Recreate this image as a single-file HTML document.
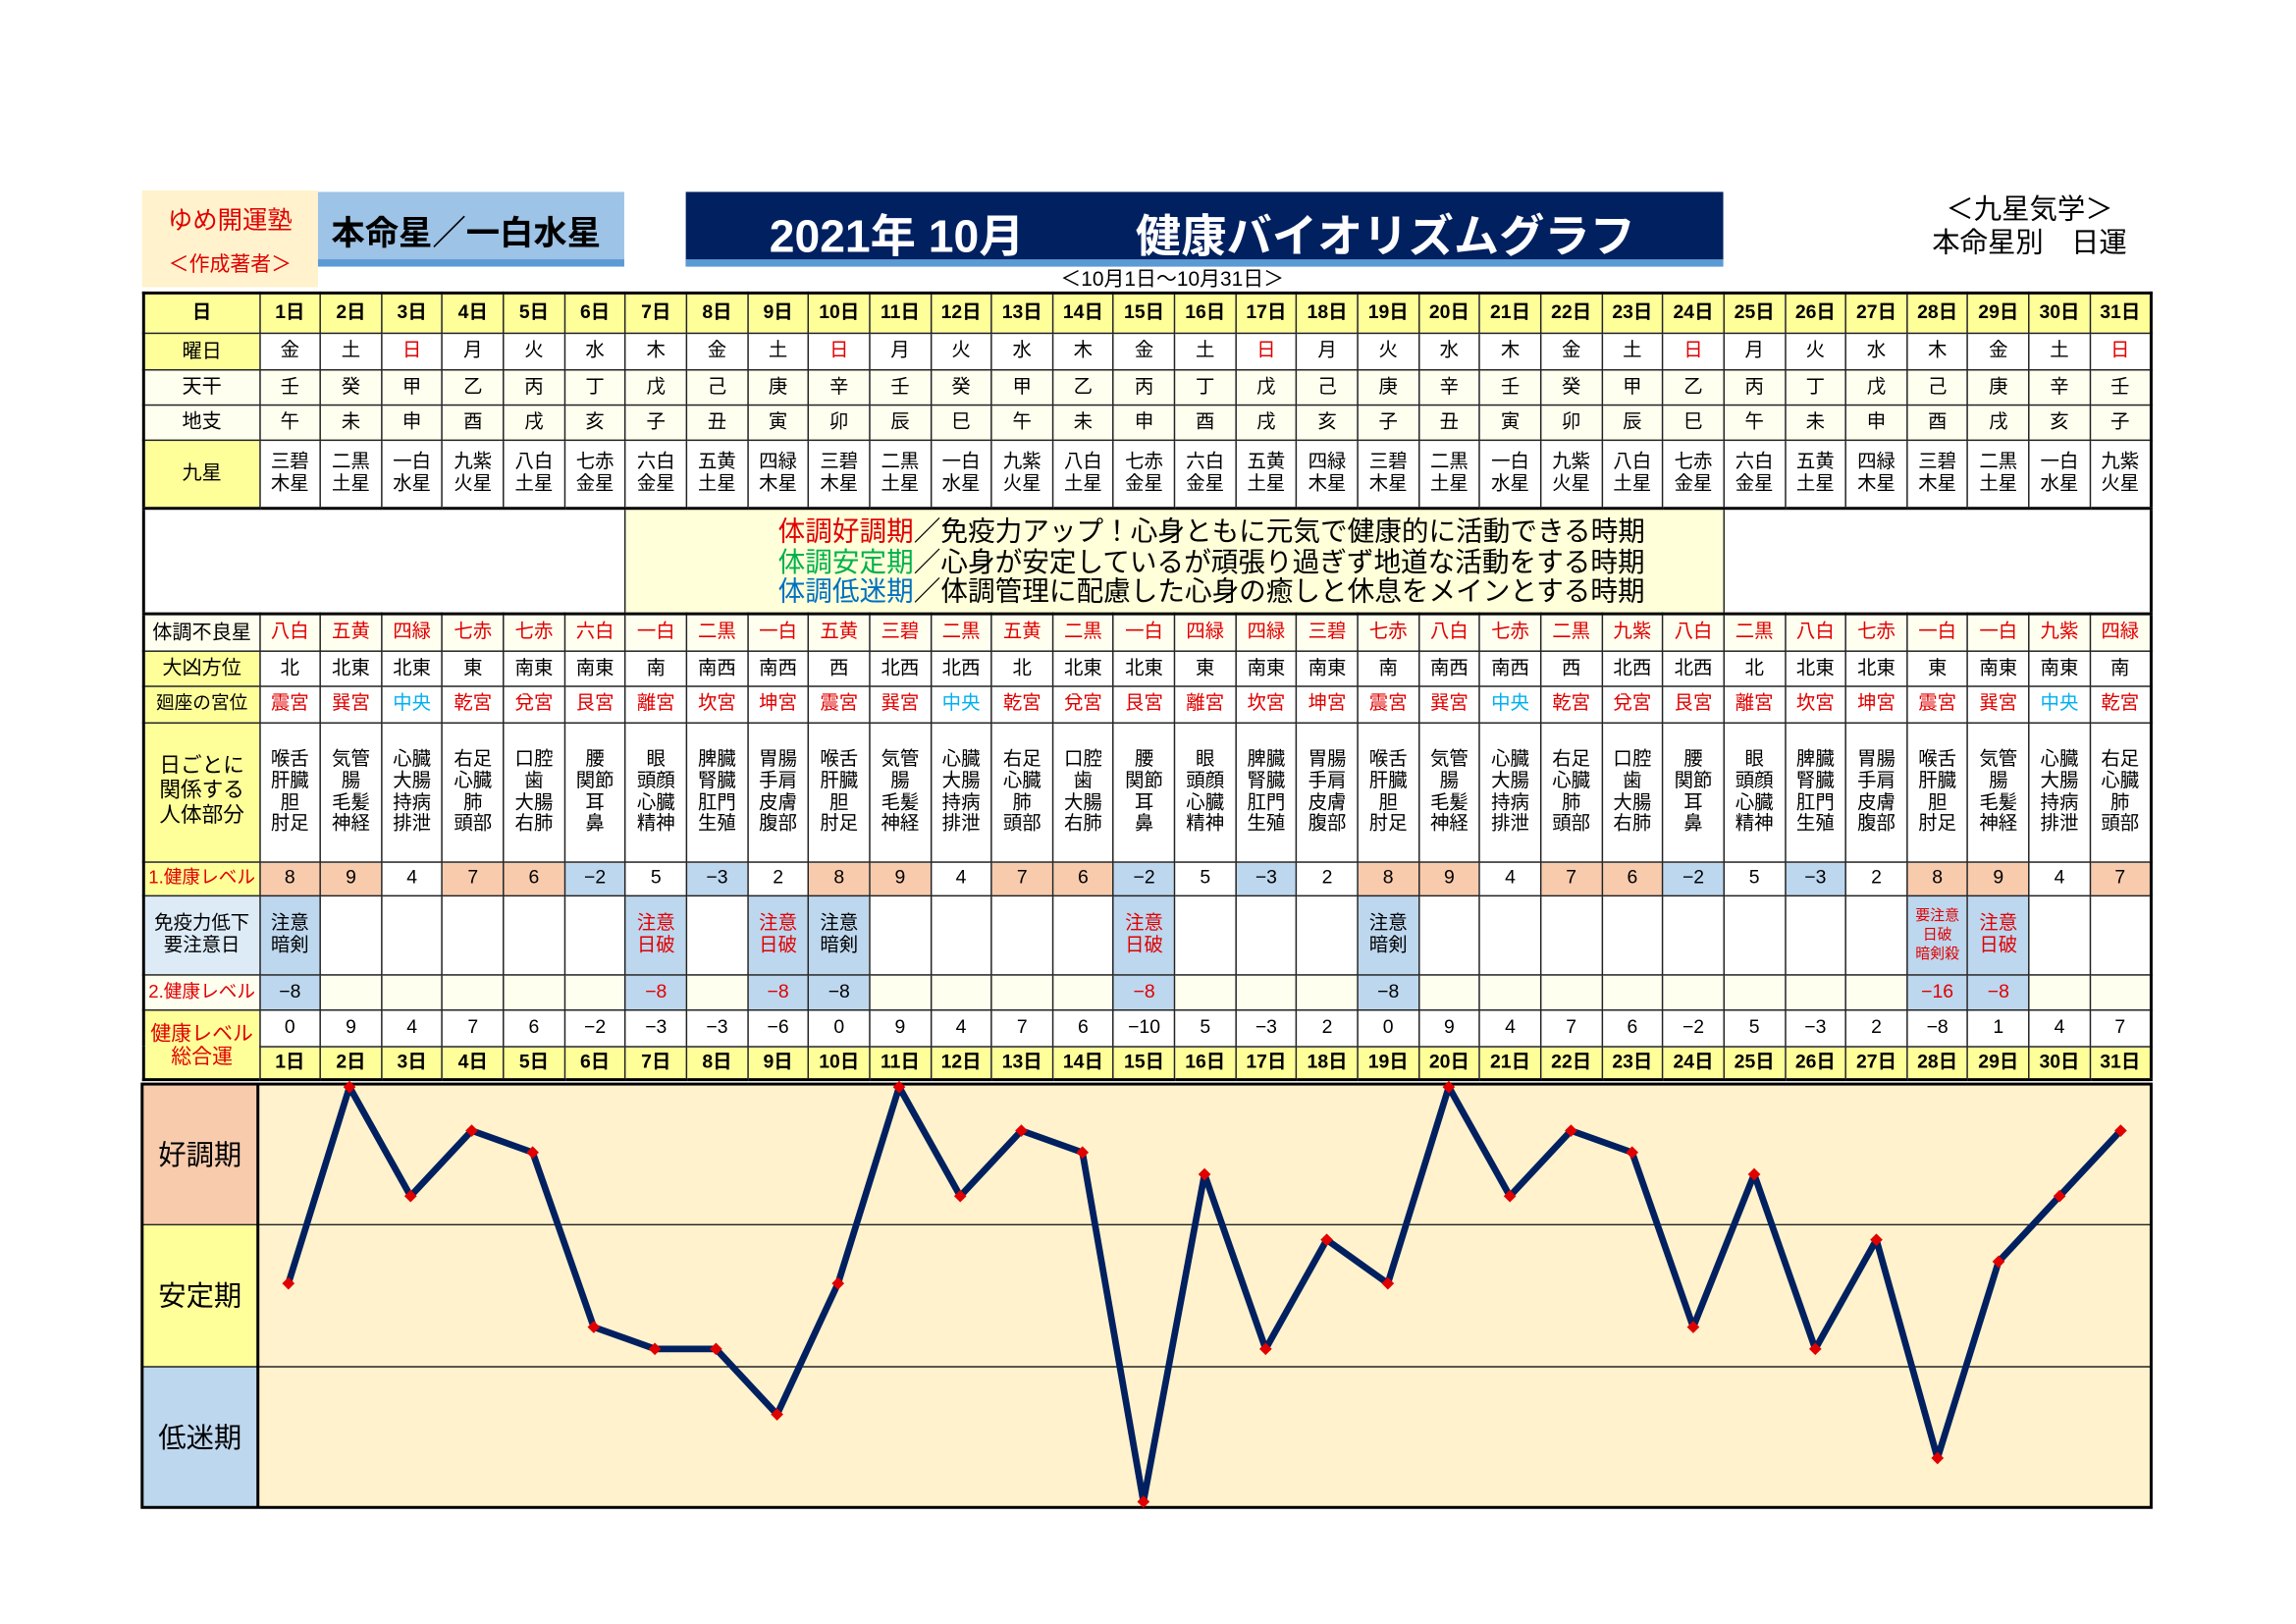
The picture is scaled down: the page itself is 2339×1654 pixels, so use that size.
<!DOCTYPE html>
<html><head><meta charset="utf-8">
<style>
html,body{margin:0;padding:0;background:#fff;}
body{width:2339px;height:1654px;overflow:hidden;position:relative;}
#w{position:absolute;left:0;top:0;width:1559px;height:1103px;transform:scale(1.4928,1.492);transform-origin:0 0;font-family:"Liberation Sans","Noto Sans CJK JP",sans-serif;color:#000;}
.a{position:absolute;}
table{position:absolute;left:97px;top:199px;border-collapse:collapse;table-layout:fixed;width:1371px;border:2px solid #000;}
td{border:1px solid #222;padding:0;text-align:center;vertical-align:middle;font-size:13px;line-height:1.15;overflow:hidden;white-space:nowrap;}
td.L{background:#ffff99;font-size:13.5px;}
tr.hd td{background:#ffff99;font-weight:bold;font-size:13px;}
tr.c td{background:#fffff0;}
.r{color:#e00000;}
.b{color:#00b0f0;}
.pk{background:#f8cbad !important;}
.bl{background:#bdd7ee !important;}
tr.tb td{border-bottom:2px solid #000;}
</style></head><body><div id="w">
<div class="a" style="left:97px;top:130px;width:120px;height:66px;background:#fff2cc;"></div>
<div class="a" style="left:97px;top:136px;width:120px;text-align:center;color:#e00000;font-size:17px;">ゆめ開運塾</div>
<div class="a" style="left:97px;top:170px;width:120px;text-align:center;color:#e00000;font-size:14px;">＜作成著者＞</div>
<div class="a" style="left:217px;top:131px;width:209px;height:46px;background:#9dc3e6;border-bottom:5px solid #5b9bd5;"></div>
<div class="a" style="left:226px;top:140px;font-size:23px;font-weight:bold;">本命星／一白水星</div>
<div class="a" style="left:468px;top:131px;width:708px;height:46px;background:#002060;border-bottom:5px solid #5b9bd5;"></div>
<div class="a" style="left:468px;top:136px;width:708px;color:#fff;font-size:31px;font-weight:bold;white-space:pre;"><span style="position:absolute;left:57px;">2021年 10月</span><span style="position:absolute;left:307px;">健康バイオリズムグラフ</span></div>
<div class="a" style="left:1300px;top:132px;width:170px;text-align:center;font-size:19px;line-height:23px;">＜九星気学＞<br>本命星別　日運</div>
<div class="a" style="left:600px;top:180px;width:400px;text-align:center;font-size:14px;">＜10月1日～10月31日＞</div>

<table>
<colgroup><col style="width:79px"><col span="31" style="width:41.645px"></colgroup>
<tr class="hd" style="height:27px"><td>日</td><td>1日</td><td>2日</td><td>3日</td><td>4日</td><td>5日</td><td>6日</td><td>7日</td><td>8日</td><td>9日</td><td>10日</td><td>11日</td><td>12日</td><td>13日</td><td>14日</td><td>15日</td><td>16日</td><td>17日</td><td>18日</td><td>19日</td><td>20日</td><td>21日</td><td>22日</td><td>23日</td><td>24日</td><td>25日</td><td>26日</td><td>27日</td><td>28日</td><td>29日</td><td>30日</td><td>31日</td></tr>
<tr style="height:25px"><td class="L">曜日</td><td>金</td><td>土</td><td class="r">日</td><td>月</td><td>火</td><td>水</td><td>木</td><td>金</td><td>土</td><td class="r">日</td><td>月</td><td>火</td><td>水</td><td>木</td><td>金</td><td>土</td><td class="r">日</td><td>月</td><td>火</td><td>水</td><td>木</td><td>金</td><td>土</td><td class="r">日</td><td>月</td><td>火</td><td>水</td><td>木</td><td>金</td><td>土</td><td class="r">日</td></tr>
<tr class="c" style="height:24px"><td class="L">天干</td><td>壬</td><td>癸</td><td>甲</td><td>乙</td><td>丙</td><td>丁</td><td>戊</td><td>己</td><td>庚</td><td>辛</td><td>壬</td><td>癸</td><td>甲</td><td>乙</td><td>丙</td><td>丁</td><td>戊</td><td>己</td><td>庚</td><td>辛</td><td>壬</td><td>癸</td><td>甲</td><td>乙</td><td>丙</td><td>丁</td><td>戊</td><td>己</td><td>庚</td><td>辛</td><td>壬</td></tr>
<tr class="c" style="height:24px"><td class="L">地支</td><td>午</td><td>未</td><td>申</td><td>酉</td><td>戌</td><td>亥</td><td>子</td><td>丑</td><td>寅</td><td>卯</td><td>辰</td><td>巳</td><td>午</td><td>未</td><td>申</td><td>酉</td><td>戌</td><td>亥</td><td>子</td><td>丑</td><td>寅</td><td>卯</td><td>辰</td><td>巳</td><td>午</td><td>未</td><td>申</td><td>酉</td><td>戌</td><td>亥</td><td>子</td></tr>
<tr class="tb" style="height:47px"><td class="L">九星</td><td>三碧<br>木星</td><td>二黒<br>土星</td><td>一白<br>水星</td><td>九紫<br>火星</td><td>八白<br>土星</td><td>七赤<br>金星</td><td>六白<br>金星</td><td>五黄<br>土星</td><td>四緑<br>木星</td><td>三碧<br>木星</td><td>二黒<br>土星</td><td>一白<br>水星</td><td>九紫<br>火星</td><td>八白<br>土星</td><td>七赤<br>金星</td><td>六白<br>金星</td><td>五黄<br>土星</td><td>四緑<br>木星</td><td>三碧<br>木星</td><td>二黒<br>土星</td><td>一白<br>水星</td><td>九紫<br>火星</td><td>八白<br>土星</td><td>七赤<br>金星</td><td>六白<br>金星</td><td>五黄<br>土星</td><td>四緑<br>木星</td><td>三碧<br>木星</td><td>二黒<br>土星</td><td>一白<br>水星</td><td>九紫<br>火星</td></tr>
<tr class="tb" style="height:72px"><td colspan="7" style="background:#fff;"></td><td colspan="18" style="background:#ffffd9;"></td><td colspan="7" style="background:#fff;"></td></tr>
<tr class="c r" style="height:25px"><td class="L" style="color:#000">体調不良星</td><td>八白</td><td>五黄</td><td>四緑</td><td>七赤</td><td>七赤</td><td>六白</td><td>一白</td><td>二黒</td><td>一白</td><td>五黄</td><td>三碧</td><td>二黒</td><td>五黄</td><td>二黒</td><td>一白</td><td>四緑</td><td>四緑</td><td>三碧</td><td>七赤</td><td>八白</td><td>七赤</td><td>二黒</td><td>九紫</td><td>八白</td><td>二黒</td><td>八白</td><td>七赤</td><td>一白</td><td>一白</td><td>九紫</td><td>四緑</td></tr>
<tr style="height:24px"><td class="L">大凶方位</td><td>北</td><td>北東</td><td>北東</td><td>東</td><td>南東</td><td>南東</td><td>南</td><td>南西</td><td>南西</td><td>西</td><td>北西</td><td>北西</td><td>北</td><td>北東</td><td>北東</td><td>東</td><td>南東</td><td>南東</td><td>南</td><td>南西</td><td>南西</td><td>西</td><td>北西</td><td>北西</td><td>北</td><td>北東</td><td>北東</td><td>東</td><td>南東</td><td>南東</td><td>南</td></tr>
<tr class="r" style="height:25px"><td class="L" style="color:#000;font-size:12.5px">廻座の宮位</td><td>震宮</td><td>巽宮</td><td class="b">中央</td><td>乾宮</td><td>兌宮</td><td>艮宮</td><td>離宮</td><td>坎宮</td><td>坤宮</td><td>震宮</td><td>巽宮</td><td class="b">中央</td><td>乾宮</td><td>兌宮</td><td>艮宮</td><td>離宮</td><td>坎宮</td><td>坤宮</td><td>震宮</td><td>巽宮</td><td class="b">中央</td><td>乾宮</td><td>兌宮</td><td>艮宮</td><td>離宮</td><td>坎宮</td><td>坤宮</td><td>震宮</td><td>巽宮</td><td class="b">中央</td><td>乾宮</td></tr>
<tr style="height:95px;font-size:14px"><td class="L" style="font-size:14.5px;line-height:17px">日ごとに<br>関係する<br>人体部分</td><td>喉舌<br>肝臓<br>胆<br>肘足</td><td>気管<br>腸<br>毛髪<br>神経</td><td>心臓<br>大腸<br>持病<br>排泄</td><td>右足<br>心臓<br>肺<br>頭部</td><td>口腔<br>歯<br>大腸<br>右肺</td><td>腰<br>関節<br>耳<br>鼻</td><td>眼<br>頭顔<br>心臓<br>精神</td><td>脾臓<br>腎臓<br>肛門<br>生殖</td><td>胃腸<br>手肩<br>皮膚<br>腹部</td><td>喉舌<br>肝臓<br>胆<br>肘足</td><td>気管<br>腸<br>毛髪<br>神経</td><td>心臓<br>大腸<br>持病<br>排泄</td><td>右足<br>心臓<br>肺<br>頭部</td><td>口腔<br>歯<br>大腸<br>右肺</td><td>腰<br>関節<br>耳<br>鼻</td><td>眼<br>頭顔<br>心臓<br>精神</td><td>脾臓<br>腎臓<br>肛門<br>生殖</td><td>胃腸<br>手肩<br>皮膚<br>腹部</td><td>喉舌<br>肝臓<br>胆<br>肘足</td><td>気管<br>腸<br>毛髪<br>神経</td><td>心臓<br>大腸<br>持病<br>排泄</td><td>右足<br>心臓<br>肺<br>頭部</td><td>口腔<br>歯<br>大腸<br>右肺</td><td>腰<br>関節<br>耳<br>鼻</td><td>眼<br>頭顔<br>心臓<br>精神</td><td>脾臓<br>腎臓<br>肛門<br>生殖</td><td>胃腸<br>手肩<br>皮膚<br>腹部</td><td>喉舌<br>肝臓<br>胆<br>肘足</td><td>気管<br>腸<br>毛髪<br>神経</td><td>心臓<br>大腸<br>持病<br>排泄</td><td>右足<br>心臓<br>肺<br>頭部</td></tr>
<tr style="height:23px"><td class="L r" style="font-size:12.5px">1.健康レベル</td><td class="pk">8</td><td class="pk">9</td><td>4</td><td class="pk">7</td><td class="pk">6</td><td class="bl">−2</td><td>5</td><td class="bl">−3</td><td>2</td><td class="pk">8</td><td class="pk">9</td><td>4</td><td class="pk">7</td><td class="pk">6</td><td class="bl">−2</td><td>5</td><td class="bl">−3</td><td>2</td><td class="pk">8</td><td class="pk">9</td><td>4</td><td class="pk">7</td><td class="pk">6</td><td class="bl">−2</td><td>5</td><td class="bl">−3</td><td>2</td><td class="pk">8</td><td class="pk">9</td><td>4</td><td class="pk">7</td></tr>
<tr style="height:54px"><td style="background:#ddebf7;font-size:13px">免疫力低下<br>要注意日</td><td class="bl">注意<br>暗剣</td><td></td><td></td><td></td><td></td><td></td><td class="bl r">注意<br>日破</td><td></td><td class="bl r">注意<br>日破</td><td class="bl">注意<br>暗剣</td><td></td><td></td><td></td><td></td><td class="bl r">注意<br>日破</td><td></td><td></td><td></td><td class="bl">注意<br>暗剣</td><td></td><td></td><td></td><td></td><td></td><td></td><td></td><td></td><td class="bl r" style="font-size:10px;line-height:13px">要注意<br>日破<br>暗剣殺</td><td class="bl r">注意<br>日破</td><td></td><td></td></tr>
<tr class="c" style="height:24px"><td class="L r" style="font-size:12.5px">2.健康レベル</td><td class="bl">−8</td><td></td><td></td><td></td><td></td><td></td><td class="bl r">−8</td><td></td><td class="bl r">−8</td><td class="bl">−8</td><td></td><td></td><td></td><td></td><td class="bl r">−8</td><td></td><td></td><td></td><td class="bl">−8</td><td></td><td></td><td></td><td></td><td></td><td></td><td></td><td></td><td class="bl r">−16</td><td class="bl r">−8</td><td></td><td></td></tr>
<tr style="height:25px"><td class="L r" rowspan="2" style="font-size:14px;line-height:16px">健康レベル<br>総合運</td><td>0</td><td>9</td><td>4</td><td>7</td><td>6</td><td>−2</td><td>−3</td><td>−3</td><td>−6</td><td>0</td><td>9</td><td>4</td><td>7</td><td>6</td><td>−10</td><td>5</td><td>−3</td><td>2</td><td>0</td><td>9</td><td>4</td><td>7</td><td>6</td><td>−2</td><td>5</td><td>−3</td><td>2</td><td>−8</td><td>1</td><td>4</td><td>7</td></tr>
<tr class="hd tb" style="height:23px"><td>1日</td><td>2日</td><td>3日</td><td>4日</td><td>5日</td><td>6日</td><td>7日</td><td>8日</td><td>9日</td><td>10日</td><td>11日</td><td>12日</td><td>13日</td><td>14日</td><td>15日</td><td>16日</td><td>17日</td><td>18日</td><td>19日</td><td>20日</td><td>21日</td><td>22日</td><td>23日</td><td>24日</td><td>25日</td><td>26日</td><td>27日</td><td>28日</td><td>29日</td><td>30日</td><td>31日</td></tr>
</table>
<div class="a" style="left:531px;top:353px;font-size:18.5px;line-height:20.5px;white-space:nowrap;"><span class="r">体調好調期</span>／免疫力アップ！心身ともに元気で健康的に活動できる時期<br><span style="color:#00b050">体調安定期</span>／心身が安定しているが頑張り過ぎず地道な活動をする時期<br><span style="color:#0070c0">体調低迷期</span>／体調管理に配慮した心身の癒しと休息をメインとする時期</div>

<svg class="a" style="left:0;top:0" width="1559" height="1103" viewBox="0 0 1559 1103">
<rect x="97" y="740" width="79" height="96" fill="#f8cbad"/>
<rect x="97" y="836" width="79" height="97" fill="#ffff99"/>
<rect x="97" y="933" width="79" height="96" fill="#bdd7ee"/>
<rect x="176" y="740" width="1292" height="289" fill="#fff2cc"/>
<line x1="97" y1="836" x2="1468" y2="836" stroke="#222" stroke-width="1"/>
<line x1="97" y1="933" x2="1468" y2="933" stroke="#222" stroke-width="1"/>
<line x1="176" y1="740" x2="176" y2="1029" stroke="#000" stroke-width="2"/>
<rect x="97" y="740" width="1371" height="289" fill="none" stroke="#000" stroke-width="2"/>
<g font-family="Liberation Sans, Noto Sans CJK JP, sans-serif" font-size="19" text-anchor="middle">
<text x="136.5" y="795">好調期</text><text x="136.5" y="891">安定期</text><text x="136.5" y="988">低迷期</text></g>
<polyline fill="none" stroke="#002060" stroke-width="4.5" stroke-linejoin="round" points="196.8,876.1 238.5,742 280.2,816.5 321.9,771.8 363.5,786.7 405.2,905.9 446.9,920.8 488.6,920.8 530.3,965.5 571.9,876.1 613.6,742 655.3,816.5 697,771.8 738.7,786.7 780.3,1025.1 822,801.6 863.7,920.8 905.4,846.3 947.1,876.1 988.7,742 1030.4,816.5 1072.1,771.8 1113.8,786.7 1155.5,905.9 1197.1,801.6 1238.8,920.8 1280.5,846.3 1322.2,995.3 1363.9,861.2 1405.5,816.5 1447.2,771.8"/>
<g fill="#e00000">
<rect x="193.8" y="873.1" width="6" height="6" transform="rotate(45 196.8 876.1)"/><rect x="235.5" y="739" width="6" height="6" transform="rotate(45 238.5 742)"/><rect x="277.2" y="813.5" width="6" height="6" transform="rotate(45 280.2 816.5)"/><rect x="318.9" y="768.8" width="6" height="6" transform="rotate(45 321.9 771.8)"/><rect x="360.5" y="783.7" width="6" height="6" transform="rotate(45 363.5 786.7)"/><rect x="402.2" y="902.9" width="6" height="6" transform="rotate(45 405.2 905.9)"/><rect x="443.9" y="917.8" width="6" height="6" transform="rotate(45 446.9 920.8)"/><rect x="485.6" y="917.8" width="6" height="6" transform="rotate(45 488.6 920.8)"/><rect x="527.3" y="962.5" width="6" height="6" transform="rotate(45 530.3 965.5)"/><rect x="568.9" y="873.1" width="6" height="6" transform="rotate(45 571.9 876.1)"/><rect x="610.6" y="739" width="6" height="6" transform="rotate(45 613.6 742)"/><rect x="652.3" y="813.5" width="6" height="6" transform="rotate(45 655.3 816.5)"/><rect x="694" y="768.8" width="6" height="6" transform="rotate(45 697 771.8)"/><rect x="735.7" y="783.7" width="6" height="6" transform="rotate(45 738.7 786.7)"/><rect x="777.3" y="1022.1" width="6" height="6" transform="rotate(45 780.3 1025.1)"/><rect x="819" y="798.6" width="6" height="6" transform="rotate(45 822 801.6)"/><rect x="860.7" y="917.8" width="6" height="6" transform="rotate(45 863.7 920.8)"/><rect x="902.4" y="843.3" width="6" height="6" transform="rotate(45 905.4 846.3)"/><rect x="944.1" y="873.1" width="6" height="6" transform="rotate(45 947.1 876.1)"/><rect x="985.7" y="739" width="6" height="6" transform="rotate(45 988.7 742)"/><rect x="1027.4" y="813.5" width="6" height="6" transform="rotate(45 1030.4 816.5)"/><rect x="1069.1" y="768.8" width="6" height="6" transform="rotate(45 1072.1 771.8)"/><rect x="1110.8" y="783.7" width="6" height="6" transform="rotate(45 1113.8 786.7)"/><rect x="1152.5" y="902.9" width="6" height="6" transform="rotate(45 1155.5 905.9)"/><rect x="1194.1" y="798.6" width="6" height="6" transform="rotate(45 1197.1 801.6)"/><rect x="1235.8" y="917.8" width="6" height="6" transform="rotate(45 1238.8 920.8)"/><rect x="1277.5" y="843.3" width="6" height="6" transform="rotate(45 1280.5 846.3)"/><rect x="1319.2" y="992.3" width="6" height="6" transform="rotate(45 1322.2 995.3)"/><rect x="1360.9" y="858.2" width="6" height="6" transform="rotate(45 1363.9 861.2)"/><rect x="1402.5" y="813.5" width="6" height="6" transform="rotate(45 1405.5 816.5)"/><rect x="1444.2" y="768.8" width="6" height="6" transform="rotate(45 1447.2 771.8)"/>
</g>
</svg>
</div></body></html>
